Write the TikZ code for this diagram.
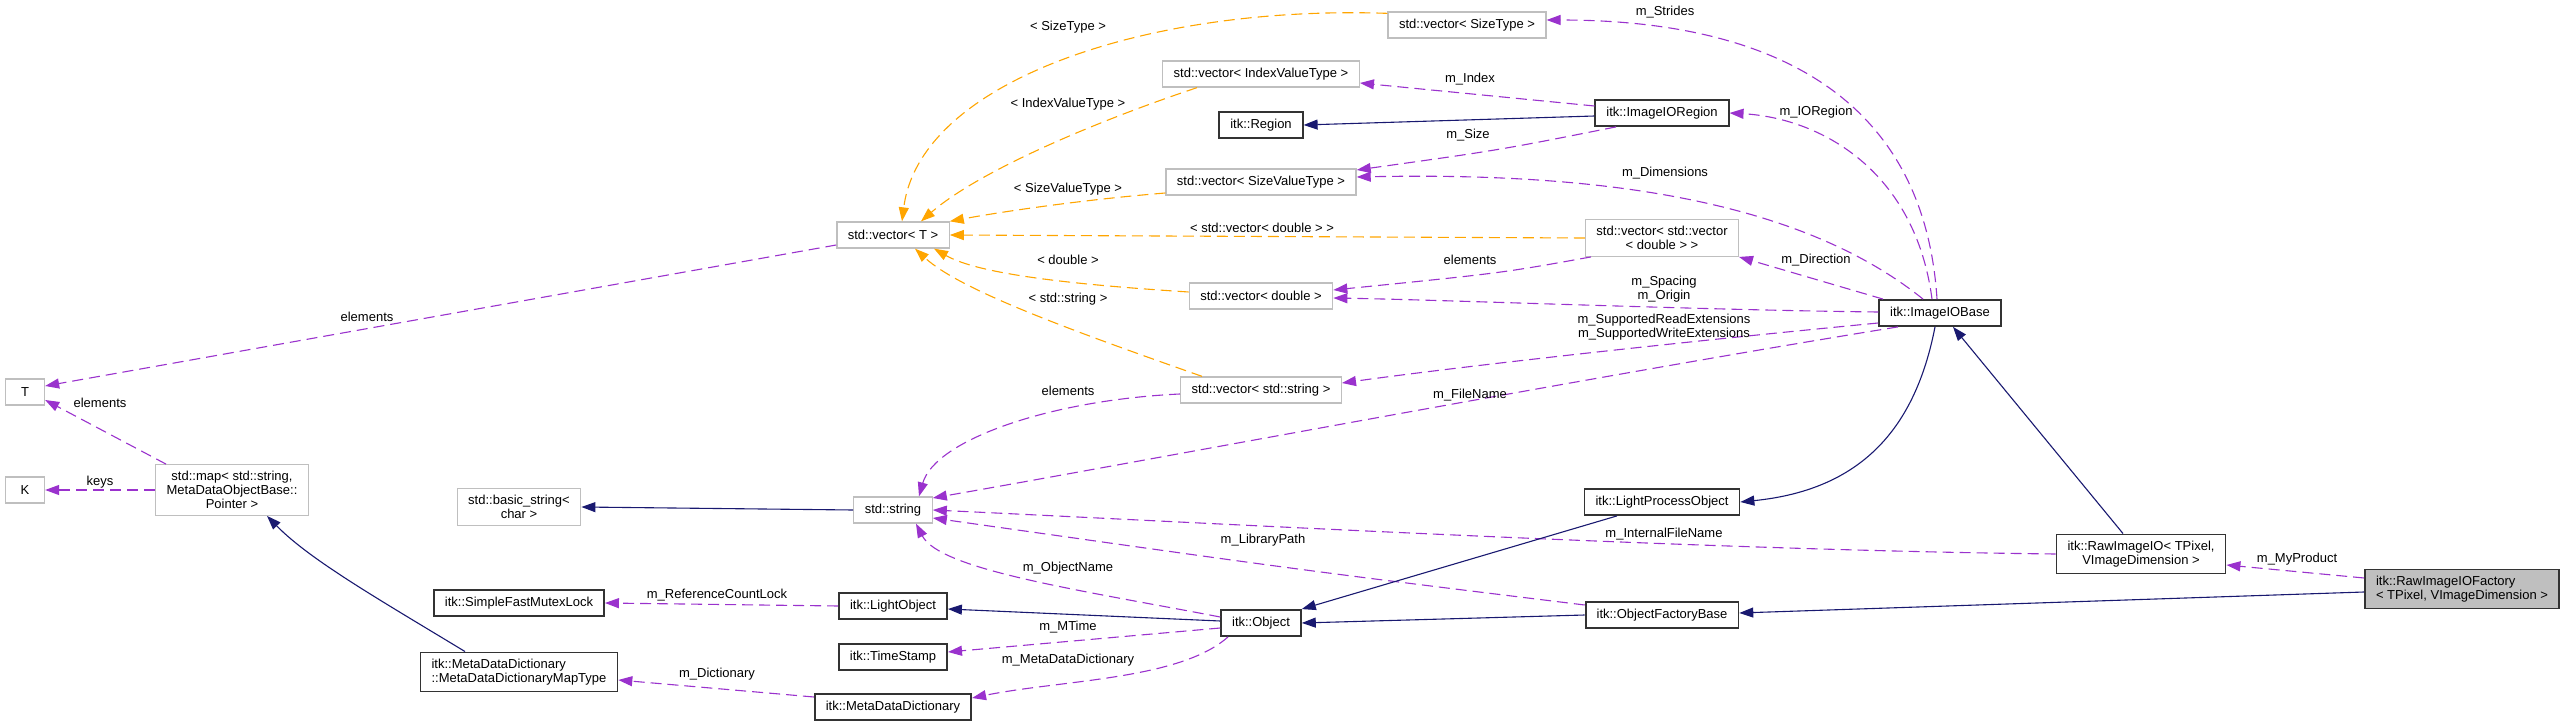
\documentclass[tikz,border=0pt]{standalone}
\usepackage{fontspec}
\setmainfont{Liberation Sans}
\usetikzlibrary{arrows.meta}

\definecolor{memberc}{HTML}{9A32CD}
\definecolor{tmplc}{HTML}{FFA500}
\definecolor{inhc}{HTML}{191970}
\definecolor{extc}{HTML}{BFBFBF}

\begin{document}
\begin{tikzpicture}[x=1pt,y=-1pt,%
	>={Triangle[length=14pt,width=10pt]},%
	every node/.style={font=\fontsize{13}{14}\selectfont},%
	classbox/.style={draw=black!80,line width=1.8pt,fill=white,%
		inner xsep=11pt,inner ysep=6.5pt,minimum height=26pt},%
	extbox/.style={classbox,draw=extc,line width=1.3pt},%
	selfbox/.style={classbox,fill=extc},%
	lbl/.style={inner sep=0pt,align=center,font=\fontsize{13}{14.5}\selectfont},%
	member/.style={->,draw=memberc,line width=1.1pt,dash pattern=on 11pt off 6pt},%
	tmpl/.style={member,draw=tmplc},%
	inherit/.style={->,draw=inhc,line width=1.1pt}]
	\useasboundingbox (0,0) rectangle (2568,727);
	
	% classes
	\node[extbox] (vSizeType) at (1467,25) {std::vector< SizeType >};
	\node[extbox] (vIndex) at (1261,74) {std::vector< IndexValueType >};
	\node[classbox] (region) at (1261,125) {itk::Region};
	\node[classbox] (ioRegion) at (1662,113) {itk::ImageIORegion};
	\node[extbox] (vSizeValue) at (1261,182) {std::vector< SizeValueType >};
	\node[extbox] (vecT) at (893,235) {std::vector< T >};
	\node[extbox,align=center] (vvDouble) at (1662,238) {std::vector< std::vector\\< double > >};
	\node[extbox] (vDouble) at (1261,296) {std::vector< double >};
	\node[classbox] (ioBase) at (1940,313) {itk::ImageIOBase};
	\node[extbox] (vString) at (1261,390) {std::vector< std::string >};
	\node[extbox,minimum width=39pt] (T) at (25,392) {T};
	\node[extbox,minimum width=39pt] (K) at (25,490) {K};
	\node[extbox,align=center] (map) at (232,490) {std::map< std::string,\\MetaDataObjectBase::\\Pointer >};
	\node[extbox,align=center] (basicString) at (519,507) {std::basic\_string<\\char >};
	\node[extbox] (string) at (893,510) {std::string};
	\node[classbox] (lightProc) at (1662,502) {itk::LightProcessObject};
	\node[classbox,align=center] (rawIO) at (2141,554) {itk::RawImageIO< TPixel,\\VImageDimension >};
	\node[selfbox,align=left] (factory) at (2462,589) {itk::RawImageIOFactory\\< TPixel, VImageDimension >};
	\node[classbox] (mutex) at (519,603) {itk::SimpleFastMutexLock};
	\node[classbox] (lightObj) at (893,606) {itk::LightObject};
	\node[classbox] (object) at (1261,623) {itk::Object};
	\node[classbox] (factoryBase) at (1662,615) {itk::ObjectFactoryBase};
	\node[classbox] (timeStamp) at (893,657) {itk::TimeStamp};
	\node[classbox,align=left] (mapType) at (519,672) {itk::MetaDataDictionary\\::MetaDataDictionaryMapType};
	\node[classbox] (mdd) at (893,707) {itk::MetaDataDictionary};
	
	% template instances
	\draw[tmpl] ([yshift=-2pt]vSizeType.north west) .. controls (1150,5) and (920,80) .. ([xshift=9pt]vecT.north);
	\draw[tmpl] ([xshift=35pt]vIndex.south west) .. controls (1100,120) and (980,170) .. ([xshift=28pt]vecT.north);
	\draw[tmpl] ([yshift=-11pt]vSizeValue.west) .. controls (1080,200) and (1000,212) .. (vecT.north east);
	\draw[tmpl] (vvDouble.west) -- (vecT.east);
	\draw[tmpl] ([yshift=4pt]vDouble.west) .. controls (1080,285) and (980,275) .. ([xshift=41pt]vecT.south);
	\draw[tmpl] ([xshift=-59pt]vString.north) .. controls (1070,330) and (960,290) .. ([xshift=22pt]vecT.south);
	
	% members
	\draw[member] ([xshift=-3pt]ioBase.north) .. controls (1925,110) and (1790,20) .. ([yshift=5pt]vSizeType.east);
	\draw[member] ([xshift=-8pt]ioBase.north) .. controls (1915,170) and (1820,118) .. (ioRegion.east);
	\draw[member] ([yshift=7pt]ioRegion.west) -- ([yshift=-9pt]vIndex.east);
	\draw[member] ([xshift=-46pt]ioRegion.south) .. controls (1500,150) .. ([yshift=12pt]vSizeValue.east);
	\draw[member] ([xshift=-17pt]ioBase.north) .. controls (1800,200) and (1600,172) .. ([yshift=5pt]vSizeValue.east);
	\draw[member] ([xshift=-57pt]ioBase.north) -- ([xshift=77pt]vvDouble.south);
	\draw[member] ([xshift=-71pt]vvDouble.south) .. controls (1502,273) .. ([yshift=6pt]vDouble.east);
	\draw[member] ([yshift=1pt]ioBase.west) .. controls (1700,310) and (1450,300) .. ([yshift=-2pt]vDouble.east);
	\draw[member] ([yshift=-10pt]ioBase.west) .. controls (1650,345) and (1450,368) .. ([yshift=7pt]vString.east);
	\draw[member] ([xshift=-42pt]ioBase.south) .. controls (1600,375) and (1150,460) .. ([yshift=12pt]string.east);
	\draw[member] ([yshift=-10pt]vecT.west) -- ([yshift=6pt]T.east);
	\draw[member] ([yshift=-4pt]vString.west) .. controls (1050,400) and (935,440) .. ([xshift=26pt]string.north);
	\draw[member] ([xshift=-66pt]map.north) -- ([yshift=-8pt]T.east);
	\draw[member] (map.west) -- (K.east);
	\draw[member] (rawIO.west) .. controls (1700,550) and (1250,525) .. (string.east);
	\draw[member] ([yshift=11pt]factory.west) -- ([yshift=-11pt]rawIO.east);
	\draw[member] ([yshift=10pt]factoryBase.west) .. controls (1300,570) .. ([yshift=-8pt]string.east);
	\draw[member] ([yshift=6pt]object.west) .. controls (1080,590) and (940,570) .. ([xshift=23pt]string.south);
	\draw[member] (lightObj.west) -- (mutex.east);
	\draw[member] ([yshift=-5pt]object.west) -- ([yshift=5pt]timeStamp.east);
	\draw[member] ([xshift=-33pt]object.south) .. controls (1180,680) and (1060,680) .. ([yshift=9pt]mdd.east);
	\draw[member] ([yshift=10pt]mdd.west) -- ([yshift=-8pt]mapType.east);
	
	% inheritance
	\draw[inherit] ([yshift=-3pt]ioRegion.west) -- (region.east);
	\draw[inherit] (string.west) -- (basicString.east);
	\draw[inherit] ([xshift=-54pt]mapType.north) .. controls (380,600) and (310,560) .. ([xshift=35pt]map.south);
	\draw[inherit] ([xshift=-5pt]ioBase.south) .. controls (1915,430) and (1860,490) .. (lightProc.east);
	\draw[inherit] ([xshift=-18pt]rawIO.north) -- ([xshift=13pt]ioBase.south);
	\draw[inherit] ([yshift=-3pt]factory.west) -- ([yshift=2pt]factoryBase.east);
	\draw[inherit] ([xshift=-45pt]lightProc.south) -- (object.north east);
	\draw[inherit] (factoryBase.west) -- (object.east);
	\draw[inherit] ([yshift=2pt]object.west) -- ([yshift=-3pt]lightObj.east);
	
	% labels
	\node[lbl] (lSizeType) at (1068,27) {< SizeType >};
	\node[lbl] (lStrides) at (1665,12) {m\_Strides};
	\node[lbl] (lIndex) at (1470,79) {m\_Index};
	\node[lbl] (lIndexValue) at (1068,104) {< IndexValueType >};
	\node[lbl] (lIORegion) at (1816,112) {m\_IORegion};
	\node[lbl] (lSize) at (1468,135) {m\_Size};
	\node[lbl] (lDimensions) at (1665,173) {m\_Dimensions};
	\node[lbl] (lSizeValue) at (1068,189) {< SizeValueType >};
	\node[lbl] (lVecDouble) at (1262,228) {< std::vector< double > >};
	\node[lbl] (lElemA) at (1470,260) {elements};
	\node[lbl] (lDirection) at (1816,260) {m\_Direction};
	\node[lbl] (lDouble) at (1068,260) {< double >};
	\node[lbl] (lSpacing) at (1664,289) {m\_Spacing\\m\_Origin};
	\node[lbl] (lString) at (1068,299) {< std::string >};
	\node[lbl] (lExtensions) at (1664,327) {m\_SupportedReadExtensions\\m\_SupportedWriteExtensions};
	\node[lbl] (lElemB) at (367,317) {elements};
	\node[lbl] (lElemC) at (1068,391) {elements};
	\node[lbl] (lFileName) at (1470,395) {m\_FileName};
	\node[lbl] (lElemD) at (100,403) {elements};
	\node[lbl] (lKeys) at (100,482) {keys};
	\node[lbl] (lInternal) at (1664,534) {m\_InternalFileName};
	\node[lbl] (lLibrary) at (1263,540) {m\_LibraryPath};
	\node[lbl] (lProduct) at (2297,559) {m\_MyProduct};
	\node[lbl] (lObjectName) at (1068,568) {m\_ObjectName};
	\node[lbl] (lRefLock) at (717,595) {m\_ReferenceCountLock};
	\node[lbl] (lMTime) at (1068,627) {m\_MTime};
	\node[lbl] (lMetaData) at (1068,660) {m\_MetaDataDictionary};
	\node[lbl] (lDictionary) at (717,674) {m\_Dictionary};
\end{tikzpicture}
\end{document}
